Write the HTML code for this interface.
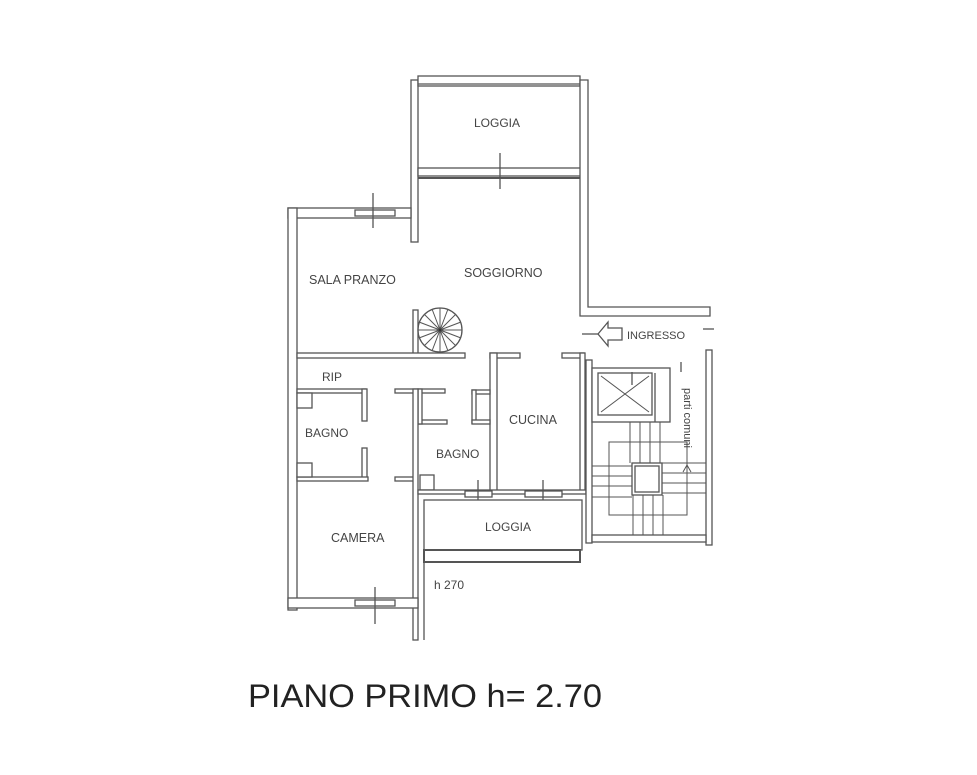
<!DOCTYPE html>
<html><head><meta charset="utf-8"><style>
html,body{margin:0;padding:0;background:#fff;}
svg{display:block}
text{font-family:"Liberation Sans",sans-serif;fill:#444}
</style></head><body>
<svg width="977" height="775" viewBox="0 0 977 775" xmlns="http://www.w3.org/2000/svg">
<g fill="#fff" stroke="#555" stroke-width="1.3">
<!-- loggia top -->
<rect x="411" y="80" width="7" height="162"/>
<rect x="418" y="76" width="162" height="10"/>
<line x1="418" y1="84" x2="580" y2="84"/>
<rect x="418" y="168" width="164" height="8"/>
<line x1="418" y1="178" x2="582" y2="178" stroke-width="2"/>
<line x1="500" y1="153" x2="500" y2="189"/>
<!-- right soggiorno + ingresso wall -->
<path d="M580,80 L588,80 L588,307 L710,307 L710,316 L580,316 Z"/>
<!-- sala pranzo -->
<rect x="288" y="208" width="123" height="10"/>
<rect x="355" y="210" width="40" height="6"/>
<line x1="373" y1="193" x2="373" y2="228"/>
<rect x="288" y="208" width="9" height="402"/>
<rect x="413" y="310" width="5" height="45"/>
<!-- spiral -->
<circle cx="440" cy="330" r="22"/>
<g stroke-width="1">
<line x1="418" y1="330" x2="462" y2="330"/><line x1="440" y1="308" x2="440" y2="352"/>
<line x1="424" y1="314" x2="456" y2="346"/><line x1="424" y1="346" x2="456" y2="314"/>
<line x1="432" y1="309" x2="448" y2="351"/><line x1="419" y1="322" x2="461" y2="338"/>
<line x1="419" y1="338" x2="461" y2="322"/><line x1="432" y1="351" x2="448" y2="309"/>
</g>
<circle cx="440" cy="330" r="2" fill="#333"/>
<!-- horizontal wall below sala -->
<rect x="297" y="353" width="168" height="5"/>
<rect x="490" y="353" width="30" height="5"/>
<rect x="562" y="353" width="22" height="5"/>
<!-- cucina walls -->
<rect x="490" y="353" width="7" height="138"/>
<rect x="580" y="353" width="5" height="138"/>
<rect x="472" y="390" width="18" height="4"/>
<rect x="472" y="390" width="4" height="33"/>
<rect x="472" y="420" width="18" height="4"/>
<!-- rip / bagno -->
<rect x="297" y="389" width="69" height="4"/>
<rect x="362" y="389" width="5" height="32"/>
<rect x="362" y="448" width="5" height="31"/>
<rect x="297" y="477" width="71" height="4"/>
<rect x="297" y="393" width="15" height="15"/>
<rect x="297" y="463" width="15" height="14"/>
<rect x="395" y="389" width="50" height="4"/>
<rect x="418" y="420" width="29" height="4"/>
<rect x="418" y="389" width="4" height="35"/>
<rect x="395" y="477" width="20" height="4"/>
<rect x="413" y="389" width="5" height="251"/>
<rect x="420" y="475" width="14" height="15"/>
<!-- bottom of bagno/cucina -->
<rect x="418" y="490" width="168" height="4"/>
<rect x="465" y="491" width="27" height="6"/>
<rect x="525" y="491" width="37" height="6"/>
<line x1="478" y1="480" x2="478" y2="515"/>
<line x1="543" y1="480" x2="543" y2="515"/>
<!-- loggia bottom -->
<rect x="424" y="500" width="158" height="50"/>
<rect x="424" y="550" width="156" height="12" stroke-width="2"/>
<line x1="424" y1="562" x2="424" y2="640"/>
<!-- camera bottom -->
<rect x="288" y="598" width="130" height="10"/>
<rect x="355" y="600" width="40" height="6"/>
<line x1="375" y1="587" x2="375" y2="624"/>
<!-- stair area -->
<rect x="586" y="360" width="6" height="183"/>
<rect x="706" y="350" width="6" height="195"/>
<rect x="592" y="368" width="78" height="54"/>
<rect x="598" y="373" width="54" height="42"/>
<line x1="601" y1="376" x2="649" y2="412" stroke-width="1"/>
<line x1="649" y1="376" x2="601" y2="412" stroke-width="1"/>
<line x1="655" y1="373" x2="655" y2="422"/>
<line x1="632" y1="372" x2="632" y2="385"/>
<g fill="none" stroke-width="1">
<line x1="630" y1="422" x2="630" y2="463"/><line x1="640" y1="422" x2="640" y2="463"/>
<line x1="650" y1="422" x2="650" y2="463"/><line x1="660" y1="422" x2="660" y2="463"/>
<line x1="633" y1="495" x2="633" y2="535"/><line x1="643" y1="495" x2="643" y2="535"/>
<line x1="653" y1="495" x2="653" y2="535"/><line x1="663" y1="495" x2="663" y2="535"/>
<line x1="592" y1="466" x2="632" y2="466"/><line x1="592" y1="476" x2="632" y2="476"/>
<line x1="592" y1="486" x2="632" y2="486"/><line x1="592" y1="497" x2="632" y2="497"/>
<line x1="662" y1="463" x2="706" y2="463"/><line x1="662" y1="473" x2="706" y2="473"/>
<line x1="662" y1="483" x2="706" y2="483"/><line x1="662" y1="493" x2="706" y2="493"/>
<rect x="609" y="442" width="78" height="73"/>
<line x1="687" y1="465" x2="687" y2="515"/>
<polyline points="683,472 687,465 691,472"/>
</g>
<rect x="632" y="463" width="30" height="32"/>
<rect x="635" y="466" width="24" height="26"/>
<rect x="592" y="535" width="114" height="7"/>
<!-- ingresso arrow -->
<line x1="582" y1="334" x2="598" y2="334"/>
<polygon points="598,334 608,322 608,328 622,328 622,340 608,340 608,346"/>
<line x1="703" y1="329" x2="714" y2="329"/>
<line x1="681" y1="362" x2="681" y2="372"/>
</g>
<g font-size="12">
<text x="474" y="127">LOGGIA</text>
<text x="309" y="284" font-size="12.5">SALA PRANZO</text>
<text x="464" y="277" font-size="12.5">SOGGIORNO</text>
<text x="322" y="381">RIP</text>
<text x="305" y="437">BAGNO</text>
<text x="436" y="458">BAGNO</text>
<text x="509" y="424" font-size="12.5">CUCINA</text>
<text x="485" y="531">LOGGIA</text>
<text x="331" y="542" font-size="12.5">CAMERA</text>
<text x="434" y="589">h 270</text>
<text x="627" y="339" font-size="11">INGRESSO</text>
<text transform="translate(684,388) rotate(90)" font-size="11">parti comuni</text>
</g>
<text x="248" y="707" font-size="32" textLength="354" lengthAdjust="spacingAndGlyphs" style="fill:#222">PIANO PRIMO h= 2.70</text>
</svg>
</body></html>
